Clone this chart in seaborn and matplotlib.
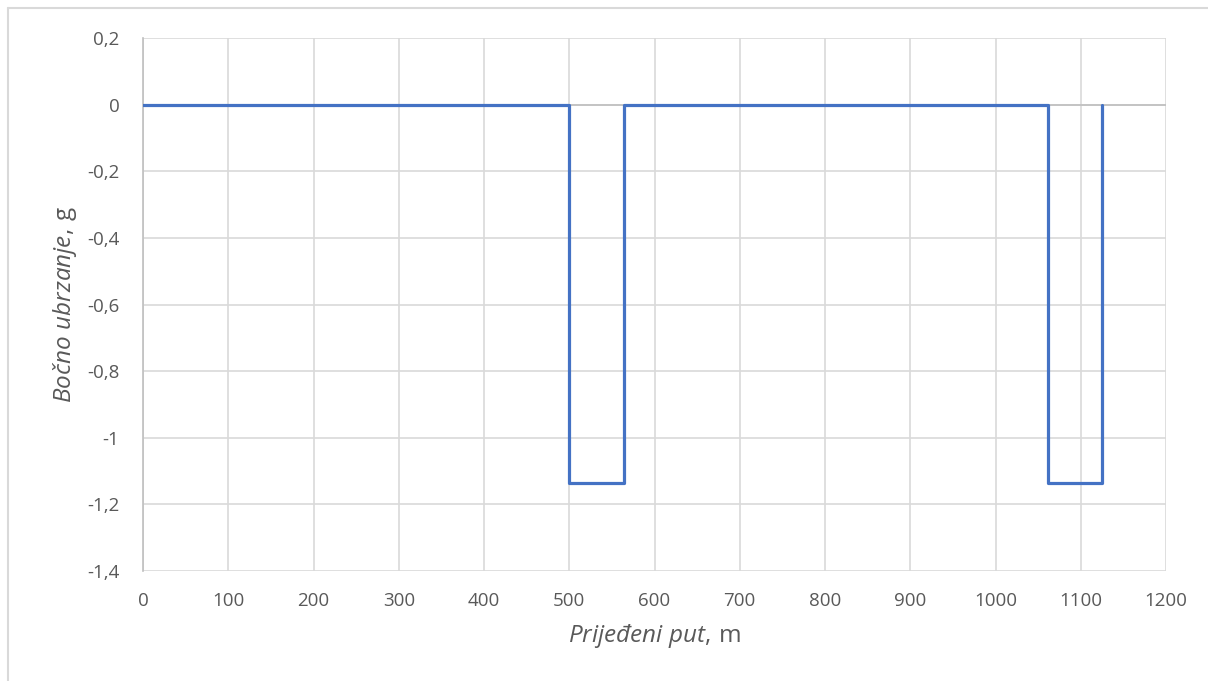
import pandas as pd
import matplotlib.pyplot as plt
import seaborn as sns
from matplotlib.lines import Line2D

# distance travelled (m) and lateral acceleration (g)
put_m = [0, 500, 500, 564, 564, 1062, 1062, 1125, 1125]
ubrzanje_g = [0, 0, -1.135, -1.135, 0, 0, -1.135, -1.135, 0]
x_ticks = [0, 100, 200, 300, 400, 500, 600, 700, 800, 900, 1000, 1100, 1200]
y_ticks = [0.2, 0, -0.2, -0.4, -0.6, -0.8, -1, -1.2, -1.4]

df = pd.DataFrame({'put': put_m, 'g': ubrzanje_g})

sns.set_style('white')
plt.rcParams['font.family'] = ['Open Sans', 'DejaVu Sans']
plt.rcParams['mathtext.fontset'] = 'custom'
plt.rcParams['mathtext.rm'] = 'Open Sans'
plt.rcParams['mathtext.it'] = 'Open Sans:italic'

fig = plt.figure(figsize=(12.08, 6.81), dpi=100)
ax = fig.add_axes([143 / 1208, 1 - 571 / 681, (1166 - 143) / 1208, (571 - 38) / 681])

sns.lineplot(data=df, x='put', y='g', sort=False, estimator=None,
             color='#4472C4', linewidth=2.3, ax=ax, zorder=3)

ax.set_xlim(0, 1200)
ax.set_ylim(-1.4, 0.2)
ax.set_xticks(x_ticks)
ax.set_yticks(y_ticks)
ax.set_xticklabels([str(t) for t in x_ticks])
ax.set_yticklabels([('%g' % t).replace('.', ',') for t in y_ticks])
ax.tick_params(length=0, labelsize=13.5, colors='#595959')
ax.tick_params(axis='x', pad=15)
ax.tick_params(axis='y', pad=17)
ax.grid(True, color='#D9D9D9', linewidth=1.2)
ax.axhline(0, color='#BFBFBF', linewidth=1.2, zorder=2)
for s in ax.spines.values():
    s.set_visible(False)
ax.spines['left'].set_visible(True)
ax.spines['left'].set_color('#BFBFBF')
ax.spines['left'].set_linewidth(1.2)

ax.set_xlabel(r'$\mathit{Prijeđeni\ put,}\,\mathrm{m}$', fontsize=17.5, color='#595959', labelpad=9)
ax.set_ylabel(r'$\mathit{Bočno\ ubrzanje,}\,\mathrm{g}$', fontsize=17.5, color='#595959', labelpad=6)

# outer chart frame
fig.add_artist(Line2D([8 / 1208, 8 / 1208], [0, 1 - 8 / 681], color='#D9D9D9', linewidth=1.5))
fig.add_artist(Line2D([8 / 1208, 1], [1 - 8 / 681, 1 - 8 / 681], color='#D9D9D9', linewidth=1.5))

fig.savefig('out.png', dpi=100, facecolor='white')
